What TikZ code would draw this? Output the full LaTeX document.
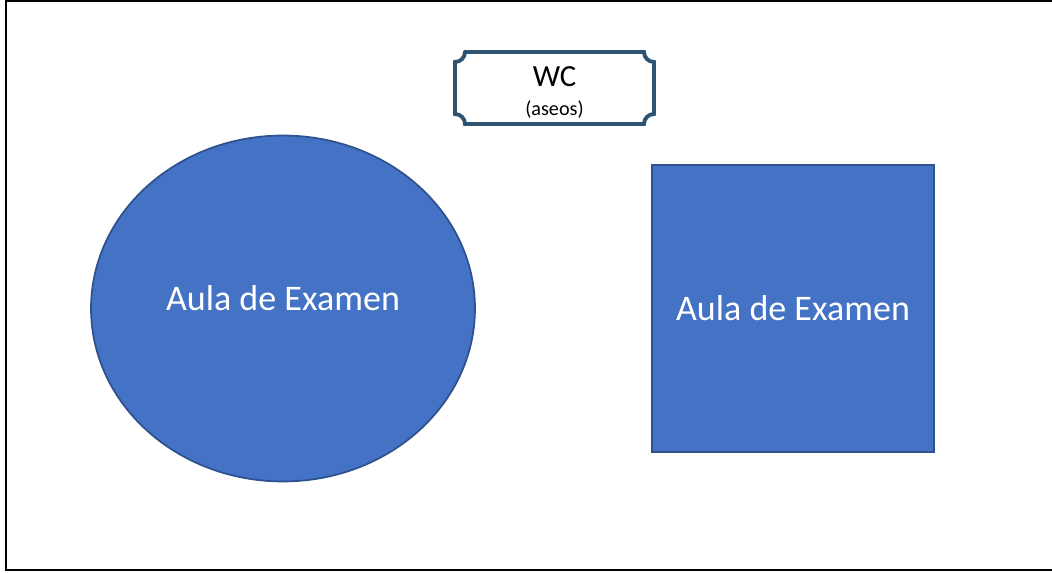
\documentclass[tikz,border=0pt]{standalone}
\usepackage{fontspec}
\setmainfont{Carlito}
\usepackage{xcolor}
\usetikzlibrary{shapes.geometric, positioning}
\definecolor{aulablue}{HTML}{4472C4}
\definecolor{aulaedge}{HTML}{2F528F}
\definecolor{plaqueedge}{HTML}{2E5473}
\tikzset{
    aula/.style={draw=aulaedge, fill=aulablue, line width=1pt},
    aulatext/.style={text=white, font=\fontsize{20.5}{24}\selectfont},
}

\begin{document}
\begin{tikzpicture}[x=0.02cm, y=0.02cm]
        \useasboundingbox (0,0) rectangle (1052,573);
        \def\r{0.2cm}
        % marco
        \draw[line width=1.6pt] (1052,572) -- (6,572) -- (6,3) -- (1052,3);
        % aulas
        \node[aula, ellipse, minimum width=7.68cm, minimum height=6.92cm] (aula1) at (283,264.5) {};
        \node[aula, rectangle, minimum width=5.64cm, minimum height=5.74cm] (aula2) at (793,264.5) {};
        \node[aulatext] (texto1) at (283,275) {Aula de Examen};
        \node[aulatext] at (aula2) {Aula de Examen};
        % WC
        \draw[plaqueedge, line width=2.2pt, fill=white]
            (465,521) -- (644,521) arc[start angle=180, end angle=270, radius=\r]
            -- (654,459) arc[start angle=90, end angle=180, radius=\r]
            -- (465,449) arc[start angle=0, end angle=90, radius=\r]
            -- (455,511) arc[start angle=270, end angle=360, radius=\r] -- cycle;
        \node[font=\fontsize{17.5}{20}\selectfont] (wc) at (554.5,496) {WC};
        \node[font=\fontsize{11.5}{13}\selectfont] (aseos) at (554.5,463) {(aseos)};
    \end{tikzpicture}
\end{document}
